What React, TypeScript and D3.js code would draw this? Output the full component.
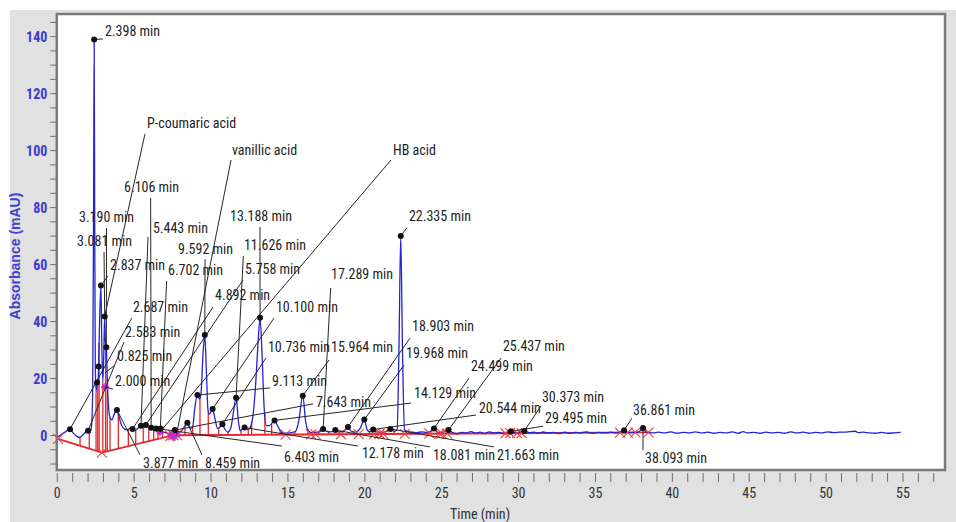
import React from 'react';
import * as d3 from 'd3';

const W = 956;
const H = 522;

// Chromatogram trace: [retention time (min), absorbance (mAU)]
const trace: [number, number][] = [
  [0.0, -0.6], [0.25, 0.3], [0.5, 1.2], [0.825, 2.2], [1.05, 0.8], [1.25, -0.2], [1.45, -0.7],
  [1.65, 0.2], [1.85, 1.2], [2.0, 1.7], [2.12, 1.0], [2.22, 3.0], [2.3, 15], [2.36, 80],
  [2.398, 139], [2.43, 80], [2.47, 25], [2.52, 15.5], [2.583, 18.6], [2.63, 17.5], [2.687, 24.2],
  [2.75, 40], [2.837, 52.7], [2.9, 30], [2.96, 19], [3.02, 28], [3.081, 41.8], [3.13, 33],
  [3.19, 31], [3.25, 20], [3.32, 11], [3.42, 6.5], [3.55, 5.5], [3.7, 7.5], [3.877, 9.0],
  [4.0, 7], [4.12, 4.5], [4.3, 2.6], [4.5, 2.0], [4.7, 2.4], [4.892, 2.3], [5.05, 1.8],
  [5.25, 2.6], [5.443, 3.4], [5.6, 3.0], [5.758, 3.7], [5.95, 2.9], [6.106, 2.7], [6.27, 2.4],
  [6.403, 2.5], [6.55, 2.1], [6.702, 2.4], [6.9, 1.2], [7.1, 0.9], [7.3, 0.4], [7.5, 0.2],
  [7.643, 1.9], [7.8, 1.0], [8.0, 1.3], [8.2, 2.5], [8.459, 4.5], [8.65, 2.5], [8.8, 3],
  [8.95, 10], [9.113, 14.2], [9.25, 12.8], [9.35, 15], [9.47, 28], [9.592, 35.3], [9.7, 22],
  [9.8, 9], [9.9, 7.5], [10.1, 9.3], [10.25, 6], [10.42, 2.5], [10.58, 3], [10.736, 4.0],
  [10.9, 2.2], [11.1, 1.2], [11.3, 3], [11.45, 8], [11.626, 13.3], [11.78, 5], [11.9, 1.6],
  [12.05, 2.4], [12.178, 2.8], [12.35, 2.2], [12.5, 2.5], [12.7, 6], [12.9, 18], [13.05, 32],
  [13.188, 41.3], [13.32, 28], [13.45, 10], [13.6, 3.5], [13.8, 3.5], [14.129, 5.3], [14.35, 3.2],
  [14.6, 1.0], [14.9, 0.8], [15.2, 1.0], [15.5, 1.5], [15.7, 5], [15.964, 14.0], [16.15, 5],
  [16.35, 1.5], [16.6, 1.0], [16.9, 1.2], [17.1, 1.4], [17.289, 2.3], [17.5, 1.5], [17.8, 1.3],
  [18.081, 1.9], [18.3, 1.3], [18.6, 1.5], [18.903, 3.0], [19.1, 1.6], [19.4, 1.2], [19.7, 2.5],
  [19.968, 5.6], [20.15, 2.0], [20.35, 1.3], [20.544, 2.1], [20.8, 1.3], [21.1, 1.2], [21.4, 1.4],
  [21.663, 2.3], [21.9, 1.5], [22.1, 2.0], [22.22, 30], [22.335, 70.0], [22.45, 30], [22.58, 2.0],
  [22.8, 1.4], [23.1, 1.2], [23.4, 1.0], [23.7, 1.3], [24.0, 1.1], [24.25, 1.4], [24.499, 2.5],
  [24.7, 1.2], [24.9, 1.1], [25.15, 1.3], [25.437, 1.9], [25.7, 1.0], [26.0, 0.6], [26.3, 1.1],
  [26.6, 0.9], [26.9, 1.4], [27.2, 0.8], [27.5, 1.2], [27.8, 0.7], [28.1, 1.3], [28.4, 0.9],
  [28.7, 1.1], [29.0, 0.8], [29.2, 1.0], [29.495, 1.4], [29.75, 1.0], [30.0, 1.1], [30.373, 1.6],
  [30.7, 1.0], [31.0, 1.2], [31.3, 0.8], [31.6, 1.3], [31.9, 0.9], [32.3, 1.1], [32.6, 0.7],
  [33.0, 1.2], [33.3, 0.8], [33.7, 1.1], [34.0, 0.9], [34.4, 1.3], [34.8, 0.8], [35.2, 1.1],
  [35.6, 0.9], [36.0, 1.2], [36.4, 0.9], [36.861, 1.8], [37.1, 1.0], [37.5, 1.1], [37.8, 1.2],
  [38.093, 2.6], [38.3, 1.2], [38.7, 0.9], [39.1, 1.2], [39.5, 0.9], [39.9, 1.3], [40.3, 0.8],
  [40.7, 1.1], [41.1, 0.9], [41.5, 1.3], [41.9, 0.9], [42.3, 1.2], [42.7, 0.8], [43.1, 1.1],
  [43.5, 0.9], [43.9, 1.3], [44.3, 0.8], [44.6, 1.4], [44.9, 0.9], [45.3, 1.1], [45.7, 0.8],
  [46.1, 1.2], [46.5, 0.9], [46.9, 1.1], [47.3, 0.8], [47.7, 1.3], [48.1, 0.9], [48.5, 1.2],
  [48.9, 0.8], [49.3, 1.1], [49.7, 0.9], [50.1, 1.3], [50.5, 1.0], [50.9, 1.2], [51.3, 1.2],
  [51.9, 1.5], [52.1, 1.0], [52.4, 1.2], [52.8, 0.9], [53.2, 0.8], [53.6, 1.1], [54.0, 0.8],
  [54.4, 0.9], [54.85, 1.1],
];

// Integrated peaks: apex retention time and apex height
const peakTimes = [
  0.825, 2.0, 2.398, 2.583, 2.687, 2.837, 3.081, 3.19, 3.877, 4.892, 5.443, 5.758, 6.106, 6.403,
  6.702, 7.643, 8.459, 9.113, 9.592, 10.1, 10.736, 11.626, 12.178, 13.188, 14.129, 15.964, 17.289,
  18.081, 18.903, 19.968, 20.544, 21.663, 22.335, 24.499, 25.437, 29.495, 30.373, 36.861, 38.093,
];
const peakHeights = [
  2.2, 1.7, 139, 18.6, 24.2, 52.7, 41.8, 31.0, 9.0, 2.3, 3.4, 3.7, 2.7, 2.5,
  2.4, 1.9, 4.5, 14.2, 35.3, 9.3, 4.0, 13.3, 2.8, 41.3, 5.3, 14.0, 2.3,
  1.9, 3.0, 5.6, 2.1, 2.3, 70.0, 2.5, 1.9, 1.4, 1.6, 1.8, 2.6,
];

// Integration baseline nodes and peak start/end marks
const baselineNodes: [number, number][] = [[0.05, -1.2], [2.9, -6.0], [7.55, 0.1], [38.5, 1.1]];
const baselineMarks = [
  0.05, 2.9, 7.35, 7.55, 7.8, 14.85, 16.5, 16.8, 18.45, 19.6, 20.6, 20.95, 21.2, 22.6, 24.2,
  24.85, 25.0, 25.35, 29.15, 29.45, 29.9, 30.2, 36.6, 37.1, 37.6, 38.45,
];
// Peak separation drop lines
const dropTimes = [
  1.48, 2.08, 2.52, 2.63, 2.72, 2.96, 3.14, 3.25, 3.43, 3.97, 4.62, 5.1, 5.59, 5.95, 6.27, 6.55,
  6.85, 7.22, 8.3, 8.8, 9.28, 9.82, 10.5, 11.1, 11.95, 12.42, 12.64, 13.5, 13.94, 14.5, 15.45,
  16.3, 17.0, 17.65, 18.3, 19.3, 20.3, 21.0, 21.9, 22.7,
];
// Identified compound marks
const compoundMarks: [number, number][] = [[3.11, 17], [6.68, 1.3], [6.74, 2.2], [7.44, 0.2], [7.54, -0.4], [7.75, 0.3]];

// Annotation text, text anchor [t, v], leader start [t, v], leader end (peak time or [t, v])
const annTexts = [
  '2.398 min', 'P-coumaric acid', 'vanillic acid', 'HB acid', '6.106 min', '13.188 min',
  '22.335 min', '3.190 min', '5.443 min', '11.626 min', '3.081 min', '9.592 min', '2.837 min',
  '6.702 min', '5.758 min', '17.289 min', '4.892 min', '10.100 min', '2.687 min', '18.903 min',
  '2.583 min', '10.736 min', '15.964 min', '0.825 min', '19.968 min', '25.437 min', '2.000 min',
  '9.113 min', '24.499 min', '7.643 min', '14.129 min', '30.373 min', '20.544 min', '29.495 min',
  '36.861 min', '3.877 min', '8.459 min', '6.403 min', '12.178 min', '18.081 min', '21.663 min',
  '38.093 min',
];
const annAt: [number, number][] = [
  [3.1, 140.2], [5.83, 107.9], [11.36, 98.5], [21.83, 98.5], [4.34, 85.5], [11.23, 75.3],
  [22.87, 75.3], [1.41, 74.9], [6.22, 71.1], [12.14, 65.1], [1.28, 66.5], [7.85, 63.7], [3.43, 58.1],
  [7.2, 56.3], [12.21, 56.7], [17.8, 54.9], [10.26, 47.6], [14.22, 43.3], [4.92, 43.3], [23.07, 36.7],
  [4.41, 34.6], [13.7, 29.3], [17.8, 29.3], [3.89, 26.1], [22.68, 27.2], [28.98, 29.7], [3.76, 17.4],
  [13.96, 17.4], [26.9, 22.6], [16.82, 10.0], [23.2, 13.2], [31.52, 11.8], [27.42, 7.9], [31.72, 4.4],
  [37.44, 7.2], [5.58, -11.4], [9.61, -11.4], [14.74, -9.3], [19.81, -7.9], [24.43, -8.6], [28.6, -8.6],
  [38.22, -9.7],
];
const annFrom: [number, number][] = [
  [2.97, 139.2], [5.7, 105.8], [11.3, 96.7], [21.7, 96.7], [6.07, 83.4], [13.18, 73.2],
  [22.74, 72.9], [3.2, 72.8], [5.9, 69.7], [12.1, 63.0], [3.04, 64.4], [9.61, 61.9], [3.3, 56.0],
  [7.11, 54.2], [12.08, 54.6], [17.78, 51.8], [10.13, 45.1], [14.09, 41.2], [4.84, 41.2], [22.94, 34.2],
  [4.34, 32.8], [13.57, 27.2], [17.67, 26.5], [3.75, 24.7], [22.55, 24.7], [28.86, 27.2], [3.62, 16.3],
  [13.83, 16.7], [26.78, 20.2], [16.63, 11.1], [23.0, 11.4], [31.46, 10.4], [27.23, 7.2], [31.59, 3.3],
  [37.37, 6.1], [5.38, -6.8], [9.41, -6.8], [14.61, -3.7], [19.56, -3.7], [24.24, -4.0], [28.4, -4.0],
  [38.09, -5.1],
];
const annTo: (number | [number, number])[] = [
  2.398, 3.081, [7.75, 0.3], [6.68, 1.3], 6.106, 13.188,
  22.335, 3.19, 5.443, 11.626, 3.081, 9.592, 2.837,
  6.702, 5.758, 17.289, 4.892, 10.1, 0.825, 18.903,
  2.0, 10.736, 15.964, [3.1, 22], 19.968, 25.437, [3.11, 17],
  9.113, 24.499, 7.643, 14.129, 30.373, 20.544, 29.495,
  36.861, 3.877, 8.459, 6.403, 12.178, 18.081, 21.663,
  38.093,
];

const xTicks = d3.range(0, 58, 1);
const xLabels = d3.range(0, 56, 5);
const yTicks = d3.range(-10, 146, 5);
const yLabels = d3.range(0, 141, 20);

const NARROW = "'Liberation Sans Narrow', 'Arial Narrow', 'Roboto Condensed', sans-serif";

export default function App() {
  const left = 57.3;
  const right = 944.5;
  const top = 15;
  const bottom = 470;

  const x = d3.scaleLinear().domain([0, 57.7]).range([left, right]);
  const y = d3.scaleLinear().domain([-12.1, 147.6]).range([bottom, top]);

  const line = d3.line<[number, number]>().x((d) => x(d[0])).y((d) => y(d[1])).curve(d3.curveMonotoneX);
  const lineStraight = d3.line<[number, number]>().x((d) => x(d[0])).y((d) => y(d[1]));

  const interp = (pts: [number, number][], t: number) => {
    const i = d3.bisector((d: [number, number]) => d[0]).left(pts, t);
    if (i <= 0) return pts[0][1];
    if (i >= pts.length) return pts[pts.length - 1][1];
    const a = pts[i - 1];
    const b = pts[i];
    return a[1] + ((t - a[0]) / (b[0] - a[0])) * (b[1] - a[1]);
  };
  const peakValue = (t: number) => peakHeights[peakTimes.indexOf(t)];

  const xMark = (cx: number, cy: number, s: number) =>
    `M${cx - s},${cy - s}L${cx + s},${cy + s}M${cx - s},${cy + s}L${cx + s},${cy - s}`;
  const star = (cx: number, cy: number, s: number) =>
    `M${cx - s},${cy}L${cx + s},${cy}M${cx},${cy - s}L${cx},${cy + s}M${cx - s * 0.7},${cy - s * 0.7}L${cx + s * 0.7},${cy + s * 0.7}M${cx - s * 0.7},${cy + s * 0.7}L${cx + s * 0.7},${cy - s * 0.7}`;

  return (
    <svg
      width={W}
      height={H}
      viewBox={`0 0 ${W} ${H}`}
      style={{ position: 'absolute', left: 0, top: 0, display: 'block' }}
    >
      <rect x={0} y={0} width={W} height={H} fill="#ffffff" />
      <rect x={10} y={10} width={W - 10} height={H - 10} fill="#e1e1e1" />
      <rect x={left} y={top - 1} width={right - left} height={bottom - top + 1} fill="#ffffff" />

      {/* x axis ticks */}
      <g>
        {xTicks.map((t) => (
          <line key={t} x1={x(t)} x2={x(t)} y1={bottom + 3} y2={bottom + 12} stroke="#6e6e6e" strokeWidth={1} />
        ))}
        {xLabels.map((t) => (
          <text
            key={t}
            x={x(t)}
            y={bottom + 28}
            textAnchor="middle"
            fontFamily={NARROW}
            fontSize={14}
            fill="#333"
          >
            {t}
          </text>
        ))}
        <text x={480} y={519} textAnchor="middle" fontFamily={NARROW} fontSize={14} fill="#333">
          Time (min)
        </text>
      </g>

      {/* y axis ticks */}
      <g>
        {yTicks.map((v) => (
          <line key={v} x1={left - 7} x2={left - 1} y1={y(v)} y2={y(v)} stroke="#6e6e6e" strokeWidth={1} />
        ))}
        {yLabels.map((v) => (
          <text
            key={v}
            x={left - 10}
            y={y(v) + 5}
            textAnchor="end"
            fontFamily={NARROW}
            fontSize={14}
            fontWeight="bold"
            fill="#3a3ad0"
          >
            {v}
          </text>
        ))}
        <text
          transform={`translate(20,${y(63)}) rotate(-90)`}
          textAnchor="middle"
          fontFamily="'Liberation Sans', Arial, sans-serif"
          fontSize={14}
          fontWeight="bold"
          fill="#4040d4"
        >
          Absorbance (mAU)
        </text>
      </g>

      {/* integration baseline and drop lines */}
      <g stroke="#e8262a" fill="none" strokeWidth={1.3}>
        <path d={lineStraight(baselineNodes) || ''} strokeWidth={1.8} />
        {dropTimes.map((t) => (
          <line key={t} x1={x(t)} x2={x(t)} y1={y(interp(trace, t))} y2={y(interp(baselineNodes, t))} />
        ))}
      </g>

      {/* chromatogram */}
      <path d={line(trace) || ''} fill="none" stroke="#2323d2" strokeWidth={1.3} />

      {/* baseline marks */}
      <g stroke="#f04040" strokeWidth={1.1} fill="none">
        {baselineMarks.map((t) => (
          <path key={t} d={xMark(x(t), y(interp(baselineNodes, t)), 5)} />
        ))}
      </g>

      {/* compound marks */}
      <g stroke="#c030d0" strokeWidth={1.6} fill="none">
        {compoundMarks.map((d, i) => (
          <path key={i} d={star(x(d[0]), y(d[1]), 4)} />
        ))}
      </g>

      {/* leaders */}
      <g stroke="#262626" strokeWidth={1}>
        {annTexts.map((s, i) => {
          const to = annTo[i];
          const tt = typeof to === 'number' ? to : to[0];
          const tv = typeof to === 'number' ? peakValue(to) : to[1];
          return (
            <line key={s + i} x1={x(annFrom[i][0])} y1={y(annFrom[i][1])} x2={x(tt)} y2={y(tv)} />
          );
        })}
      </g>

      {/* apex dots */}
      <g fill="#111">
        {peakTimes.map((t, i) => (
          <circle key={t} cx={x(t)} cy={y(peakHeights[i])} r={3} />
        ))}
      </g>

      {/* annotation labels */}
      <g fontFamily={NARROW} fontSize={14} fill="#1e1e1e">
        {annTexts.map((s, i) => (
          <text key={s + i} x={x(annAt[i][0])} y={y(annAt[i][1])}>
            {s}
          </text>
        ))}
      </g>

      {/* frame */}
      <rect
        x={left - 0.5}
        y={top - 1}
        width={right - left + 1}
        height={bottom - top + 1}
        fill="none"
        stroke="#7a7a7a"
        strokeWidth={2.5}
      />
    </svg>
  );
}
